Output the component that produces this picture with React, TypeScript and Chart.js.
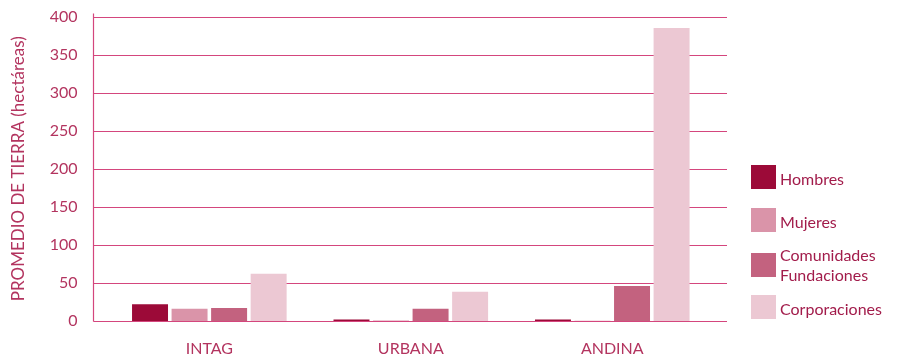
import React, { useEffect, useRef } from "react";
import { Chart, registerables } from "chart.js";

Chart.register(...registerables);

const categories = ["INTAG", "URBANA", "ANDINA"];
const seriesLabels: (string | string[])[] = ["Hombres", "Mujeres", ["Comunidades", "Fundaciones"], "Corporaciones"];
const hombres = [22, 2, 2];
const mujeres = [16, 0.5, 0.3];
const comunidades = [17, 16, 46];
const corporaciones = [62, 38.5, 385];
const yTicks = [0, 50, 100, 150, 200, 250, 300, 350, 400];

const seriesColors = ["#9c0a38", "#da94a9", "#c3627f", "#ecc8d3"];
const gridColor = "rgb(212, 70, 125)";
const axisText = "#b3345f";
const legendText = "#a21c4b";
const FONT = "Lato, 'Open Sans', sans-serif";

// Horizontal rules run a little past the category band on both sides, plus the left axis line.
const gridPlugin = {
  id: "extendedGrid",
  beforeDatasetsDraw(chart: any) {
    const { ctx, chartArea, scales } = chart;
    const left = Math.round(chartArea.left - 15.5) + 0.5;
    const right = chartArea.right + 14;
    ctx.save();
    ctx.strokeStyle = gridColor;
    ctx.lineWidth = 1.2;
    yTicks.forEach((v) => {
      const y = Math.round(scales.y.getPixelForValue(v)) + 0.5;
      ctx.beginPath();
      ctx.moveTo(left, y);
      ctx.lineTo(right, y);
      ctx.stroke();
    });
    ctx.beginPath();
    ctx.moveTo(left, scales.y.getPixelForValue(400) - 3);
    ctx.lineTo(left, Math.round(scales.y.getPixelForValue(0)) + 0.5);
    ctx.stroke();
    ctx.restore();
  },
};

// Legend column to the right of the plot.
const legendPlugin = {
  id: "sideLegend",
  afterDraw(chart: any) {
    const { ctx } = chart;
    const boxX = 751;
    const boxTops = [165, 208, 253, 295];
    ctx.save();
    ctx.font = `16px ${FONT}`;
    ctx.textBaseline = "middle";
    ctx.textAlign = "left";
    chart.data.datasets.forEach((ds: any, i: number) => {
      const top = boxTops[i];
      ctx.fillStyle = ds.backgroundColor;
      ctx.fillRect(boxX, top, 25, 24);
      ctx.fillStyle = legendText;
      const lines = Array.isArray(ds.label) ? ds.label : [ds.label];
      if (lines.length === 1) {
        ctx.fillText(lines[0], 780, top + 15);
      } else {
        ctx.fillText(lines[0], 780, top + 3);
        ctx.fillText(lines[1], 780, top + 23);
      }
    });
    ctx.restore();
  },
};

export default function App() {
  const canvasRef = useRef<HTMLCanvasElement | null>(null);

  useEffect(() => {
    if (!canvasRef.current) return;
    const values = [hombres, mujeres, comunidades, corporaciones];
    const chart = new Chart(canvasRef.current, {
      type: "bar",
      data: {
        labels: categories,
        datasets: values.map((data, i) => ({
          label: seriesLabels[i] as any,
          data,
          backgroundColor: seriesColors[i],
          borderWidth: 0,
          barPercentage: 0.91,
          categoryPercentage: 0.785,
        })),
      },
      options: {
        animation: false,
        responsive: true,
        maintainAspectRatio: false,
        layout: { padding: { top: 16.5, right: 185, bottom: 0, left: 0 } },
        plugins: {
          legend: { display: false },
          tooltip: { enabled: false },
        },
        scales: {
          x: {
            grid: { display: false, drawTicks: false },
            border: { display: false },
            ticks: {
              color: axisText,
              font: { family: FONT, size: 16 },
              padding: 18,
            },
            afterFit(scale: any) {
              scale.height = 34;
              scale.paddingTop = 0;
              scale.paddingBottom = 0;
            },
          },
          y: {
            min: 0,
            max: 400,
            afterBuildTicks(scale: any) {
              scale.ticks = yTicks.map((v) => ({ value: v }));
            },
            grid: { display: false, drawTicks: false },
            border: { display: false },
            ticks: {
              color: axisText,
              font: { family: FONT, size: 16 },
              padding: 31,
            },
            title: {
              display: true,
              text: "PROMEDIO DE TIERRA (hectáreas)",
              color: axisText,
              font: { family: FONT, size: 17 },
              padding: { top: 8, bottom: 0 },
            },
            afterFit(scale: any) {
              scale.width = 108.6;
              scale.paddingTop = 0;
              scale.paddingBottom = 0;
            },
          },
        },
      },
      plugins: [gridPlugin, legendPlugin],
    });
    return () => chart.destroy();
  }, []);

  return (
    <div style={{ position: "absolute", left: 0, top: 0, width: 898, height: 355, background: "#ffffff" }}>
      <canvas ref={canvasRef} />
    </div>
  );
}
